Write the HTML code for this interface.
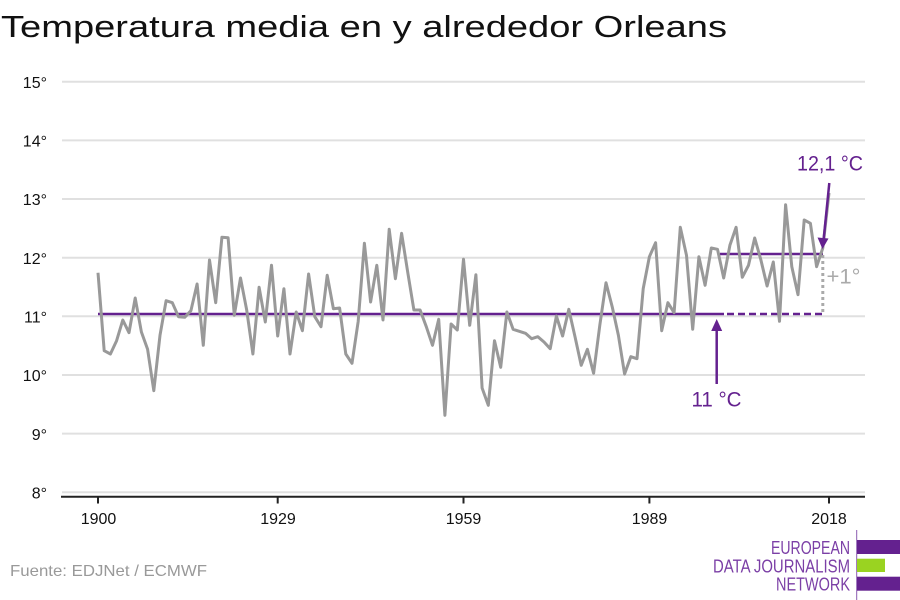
<!DOCTYPE html>
<html>
<head>
<meta charset="utf-8">
<style>
html,body{margin:0;padding:0;background:#fff;}
svg{display:block;}
text{font-family:"Liberation Sans",sans-serif;}
</style>
</head>
<body>
<svg width="900" height="600" viewBox="0 0 900 600" xmlns="http://www.w3.org/2000/svg">
<rect width="900" height="600" fill="#fff"/>
<text x="1" y="37" font-size="31" fill="#111" textLength="726" lengthAdjust="spacingAndGlyphs">Temperatura media en y alrededor Orleans</text>

<g stroke="#e0e0e0" stroke-width="2">
<line x1="62" y1="81.7" x2="865" y2="81.7"/>
<line x1="62" y1="140.4" x2="865" y2="140.4"/>
<line x1="62" y1="199" x2="865" y2="199"/>
<line x1="62" y1="257.7" x2="865" y2="257.7"/>
<line x1="62" y1="316.3" x2="865" y2="316.3"/>
<line x1="62" y1="375" x2="865" y2="375"/>
<line x1="62" y1="433.6" x2="865" y2="433.6"/>
<line x1="62" y1="492.3" x2="865" y2="492.3"/>
</g>
<g font-size="16" fill="#111" text-anchor="end">
<text x="47" y="88">15°</text>
<text x="47" y="146.5">14°</text>
<text x="47" y="205">13°</text>
<text x="47" y="264">12°</text>
<text x="47" y="322.5">11°</text>
<text x="47" y="381">10°</text>
<text x="47" y="440">9°</text>
<text x="47" y="498.5">8°</text>
</g>

<line x1="61" y1="496.7" x2="865" y2="496.7" stroke="#222" stroke-width="2"/>
<g stroke="#222" stroke-width="2">
<line x1="98" y1="496" x2="98" y2="503.5"/>
<line x1="277.7" y1="496" x2="277.7" y2="503.5"/>
<line x1="463.5" y1="496" x2="463.5" y2="503.5"/>
<line x1="649.4" y1="496" x2="649.4" y2="503.5"/>
<line x1="829" y1="496" x2="829" y2="503.5"/>
</g>
<g font-size="16" fill="#111" text-anchor="middle">
<text x="98.5" y="524">1900</text>
<text x="278" y="524">1929</text>
<text x="463.5" y="524">1959</text>
<text x="649.5" y="524">1989</text>
<text x="829" y="524">2018</text>
</g>

<!-- baseline -->
<line x1="98" y1="314" x2="724" y2="314" stroke="#64218f" stroke-width="2.5"/>
<line x1="727" y1="314" x2="823" y2="314" stroke="#64218f" stroke-width="2.5" stroke-dasharray="7,4"/>
<line x1="720" y1="254" x2="823" y2="254" stroke="#64218f" stroke-width="2.5"/>
<line x1="822.8" y1="255" x2="822.8" y2="314" stroke="#aaa" stroke-width="3" stroke-dasharray="3,3"/>

<polyline fill="none" stroke="#999" stroke-width="3" stroke-linejoin="round" points="
98,272.7 104.2,350.7 110.4,354 116.6,340.7 122.8,320 129,332.7 135.2,298 141.4,332 147.6,349.3 153.8,390.7
160,335.3 166.1,300.7 172.3,302.7 178.5,316.7 184.7,317.3 190.9,310.7 197.1,284 203.3,345.3 209.5,260 215.7,302.7
221.9,237.3 228.1,237.7 234.3,315.3 240.5,278 246.7,310 252.9,354 259.1,287.3 265.3,322 271.5,265.3 277.7,336
283.9,288.7 290,354 296.2,312 302.4,330.7 308.6,274 314.8,316.7 321,326.7 327.2,275.3 333.4,308.7 339.6,308
345.8,354 352,363.3 358.2,321.3 364.4,243.3 370.6,302 376.8,265.3 383,320 389.2,229.3 395.4,278.7 401.6,233.3
407.8,272.7 413.9,310 420.1,310 426.3,326.7 432.5,345.3 438.7,319.3 444.9,415.3 451.1,324 457.3,330 463.5,259.3
469.7,325.3 475.9,274.7 482.1,388 488.3,405.3 494.5,340.7 500.7,367.3 506.9,312 513.1,329.3 519.3,331.3 525.5,333.3
531.7,338.7 537.8,336.7 544,342 550.2,348.7 556.4,316 562.6,336 568.8,309.3 575,336.7 581.2,365.3 587.4,349.3
593.6,373.3 599.8,325.3 606,282.7 612.2,306.7 618.4,335.3 624.6,374 630.8,356.7 637,358.7 643.2,288.7 649.4,256.7
655.6,242.7 661.7,330.7 667.9,302.7 674.1,312.7 680.3,227.3 686.5,255.3 692.7,329.3 698.9,256.7 705.1,285.3 711.3,248
717.5,249.3 723.7,278 729.9,245.3 736.1,227.3 742.3,277.3 748.5,265.3 754.7,238 760.9,260 767.1,286 773.3,262
779.5,321.3 785.6,204.7 791.8,266.7 798,294.7 804.2,220 810.4,223.3 816.6,266.7 822.8,248 829,193"/>

<!-- 11 °C arrow -->
<line x1="716.7" y1="384" x2="716.7" y2="328" stroke="#64218f" stroke-width="2.5"/>
<polygon points="716.7,319 711.2,331 722.2,331" fill="#64218f"/>
<text x="716.5" y="406.5" font-size="21" fill="#64218f" text-anchor="middle" textLength="50" lengthAdjust="spacingAndGlyphs">11 °C</text>

<!-- 12,1 °C arrow -->
<line x1="829.3" y1="183" x2="823.6" y2="240" stroke="#64218f" stroke-width="2.5"/>
<polygon points="822.5,249 817.5,237.5 828.5,238.5" fill="#64218f"/>
<text x="830" y="170.5" font-size="21" fill="#64218f" text-anchor="middle" textLength="66" lengthAdjust="spacingAndGlyphs">12,1 °C</text>
<text x="826.5" y="283.3" font-size="21" fill="#aaa" textLength="34" lengthAdjust="spacingAndGlyphs">+1°</text>

<text x="10" y="576" font-size="16" fill="#999" textLength="197" lengthAdjust="spacingAndGlyphs">Fuente: EDJNet / ECMWF</text>

<!-- logo -->
<line x1="856.7" y1="530" x2="856.7" y2="600" stroke="#8a5bb0" stroke-width="1"/>
<rect x="857" y="540" width="43" height="14" fill="#64218f"/>
<rect x="857" y="558.7" width="28" height="13.3" fill="#9ad321"/>
<rect x="857" y="576.7" width="43" height="14" fill="#64218f"/>
<g font-size="18" fill="#7b3fa6" text-anchor="end" font-family="'Liberation Sans Narrow','Liberation Sans',sans-serif">
<text x="850" y="554" textLength="79" lengthAdjust="spacingAndGlyphs">EUROPEAN</text>
<text x="850" y="572.3" textLength="137" lengthAdjust="spacingAndGlyphs">DATA JOURNALISM</text>
<text x="850" y="590.7" textLength="74" lengthAdjust="spacingAndGlyphs">NETWORK</text>
</g>
</svg>
</body>
</html>
